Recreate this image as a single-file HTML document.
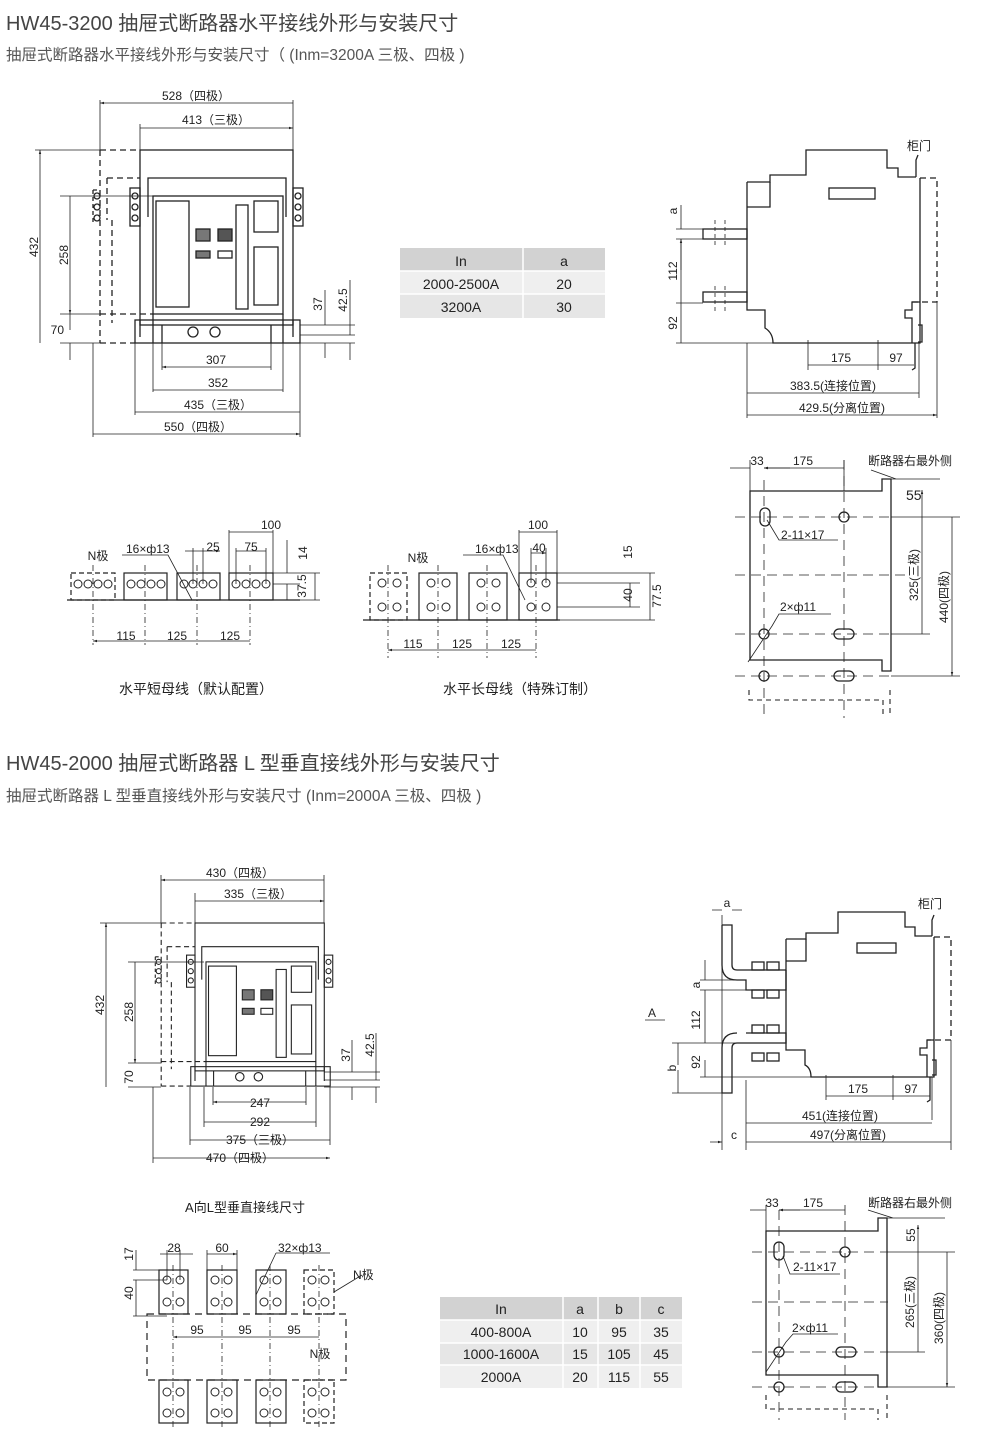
<!DOCTYPE html>
<html><head><meta charset="utf-8"><style>
html,body{margin:0;padding:0;background:#fff}
svg{display:block}
text{font-family:"Liberation Sans","Noto Sans CJK SC",sans-serif;fill:#222}
.t1{font-size:20px;fill:#444}
.t2{font-size:15.5px;fill:#555}
.s{font-size:12px}
.m{font-size:14px}
</style></head><body>
<svg width="1000" height="1442" viewBox="0 0 1000 1442" xmlns="http://www.w3.org/2000/svg">
<defs>
<marker id="ar" viewBox="0 0 10 10" refX="10" refY="5" markerWidth="9" markerHeight="5" orient="auto-start-reverse"><path d="M0,2 L10,5 L0,8z" fill="#222"/></marker>
<g id="fv" fill="none" stroke="#222" stroke-width="1.3">
 <rect x="140" y="150" width="153" height="175"/>
 <path d="M148,217 V178 H286 V217"/>
 <rect x="153" y="196" width="130" height="118"/>
 <rect x="156" y="201" width="33" height="106"/>
 <rect x="196" y="229" width="14" height="12" fill="#777"/>
 <rect x="218" y="229" width="14" height="12" fill="#555"/>
 <rect x="196" y="251" width="14" height="7" fill="#777"/>
 <rect x="218" y="251" width="14" height="7"/>
 <rect x="236" y="205" width="12" height="104"/>
 <rect x="254" y="201" width="24" height="31"/>
 <rect x="254" y="247" width="24" height="58"/>
 <rect x="130" y="188" width="10" height="38"/>
 <rect x="293" y="188" width="10" height="38"/>
 <circle cx="135" cy="196" r="3"/><circle cx="135" cy="207" r="3"/><circle cx="135" cy="218" r="3"/>
 <circle cx="298" cy="196" r="3"/><circle cx="298" cy="207" r="3"/><circle cx="298" cy="218" r="3"/>
 <rect x="135" y="320" width="165" height="23"/>
 <path d="M140,320 V337 M153,314 V343 M162,325 V343 M271,325 V343 M283,314 V343 M293,320 V337"/>
 <circle cx="193" cy="332" r="5"/><circle cx="215" cy="332" r="5"/>
 <path d="M100,150 H140 M107,178 H140 M100,150 V343 M107,178 V220 M112,220 V323 M100,314 H153 M100,343 H135" stroke-dasharray="6,4"/>
 <path d="M93,190 V225 M93,190 H100" stroke-dasharray="4,3"/>
 <circle cx="97" cy="196" r="3"/><circle cx="97" cy="207" r="3"/><circle cx="97" cy="218" r="3"/>
</g>
</defs>

<text x="6" y="30" class="t1">HW45-3200 抽屉式断路器水平接线外形与安装尺寸</text>
<text x="6" y="60" class="t2">抽屉式断路器水平接线外形与安装尺寸（ (Inm=3200A 三极、四极 )</text>
<text x="6" y="770" class="t1">HW45-2000 抽屉式断路器 L 型垂直接线外形与安装尺寸</text>
<text x="6" y="801" class="t2">抽屉式断路器 L 型垂直接线外形与安装尺寸 (Inm=2000A 三极、四极 )</text>

<!-- FRONT VIEW 1 -->
<use href="#fv"/>
<g stroke="#222" stroke-width="0.8" fill="none">
 <path d="M100,100 V150 M293,100 V150 M140,124 V150"/>
 <path d="M100,103 H293 M140,128 H293" marker-start="url(#ar)" marker-end="url(#ar)"/>
 <path d="M35,150 H100 M60,196 H153 M60,343 H100 M60,314 H100"/>
 <path d="M40,150 V343 M70,196 V314" marker-start="url(#ar)" marker-end="url(#ar)"/>
 <path d="M70,314 V330 M70,343 V360"/>
 <path d="M300,325 H355 M300,335 H355 M300,343 H355 M325,290 V325 M325,343 V358 M350,280 V335 M350,343 V360"/>
 <path d="M162,343 V370 M271,343 V370 M153,343 V392 M283,343 V392 M135,343 V415 M300,343 V437 M93,343 V437"/>
 <path d="M162,367 H271 M153,390 H283 M135,412 H300 M93,434 H300" marker-start="url(#ar)" marker-end="url(#ar)"/>
</g>
<text x="196" y="100" text-anchor="middle" class="s">528（四极）</text>
<text x="216" y="124" text-anchor="middle" class="s">413（三极）</text>
<text x="38" y="247" class="s" transform="rotate(-90 38 247)" text-anchor="middle">432</text>
<text x="68" y="255" class="s" transform="rotate(-90 68 255)" text-anchor="middle">258</text>
<text x="64" y="334" class="s" text-anchor="end">70</text>
<text x="322" y="304" class="s" transform="rotate(-90 322 304)" text-anchor="middle">37</text>
<text x="347" y="300" class="s" transform="rotate(-90 347 300)" text-anchor="middle">42.5</text>
<text x="216" y="364" text-anchor="middle" class="s">307</text>
<text x="218" y="387" text-anchor="middle" class="s">352</text>
<text x="218" y="409" text-anchor="middle" class="s">435（三极）</text>
<text x="198" y="431" text-anchor="middle" class="s">550（四极）</text>

<!-- TABLE 1 -->
<rect x="400" y="248" width="205" height="23" fill="#d2d2d2"/>
<rect x="400" y="271" width="205" height="23" fill="#efefef"/>
<rect x="400" y="294" width="205" height="24" fill="#e6e6e6"/>
<path d="M523,248 V318 M400,271 H605 M400,294 H605" stroke="#fff" stroke-width="1.5"/>
<text x="461" y="266" text-anchor="middle" class="m">In</text>
<text x="564" y="266" text-anchor="middle" class="m">a</text>
<text x="461" y="289" text-anchor="middle" class="m">2000-2500A</text>
<text x="564" y="289" text-anchor="middle" class="m">20</text>
<text x="461" y="312" text-anchor="middle" class="m">3200A</text>
<text x="564" y="312" text-anchor="middle" class="m">30</text>

<!-- SIDE VIEW 1 -->
<g fill="none" stroke="#222" stroke-width="1.3">
 <path d="M747,182 H770 V175 H806 V150 H887 V168 H898 V177 H916 M920,178 V343 H773 Q773,333 765,328 V310 H747 V182"/>
 <path d="M770,182 V207 H747"/>
 <rect x="829" y="188" width="46" height="11"/>
 <rect x="703" y="229" width="44" height="10"/>
 <rect x="703" y="292" width="44" height="10"/>
 <path d="M916,177 V160 L918,155 M920,302 H912 V310 H905 V318 H912 V343 M918,325 H922 V342 H918 M915,343 V368 L912,370"/>
 <path d="M920,178 H937 V302 H912" stroke-dasharray="6,4"/>
 <path d="M715,220 V245 M725,220 V245 M715,286 V312 M725,286 V312" stroke-dasharray="4,3" stroke-width="0.8"/>
</g>
<g stroke="#222" stroke-width="0.8" fill="none">
 <path d="M676,229 H703 M676,239 H703 M676,303 H703 M676,343 H773 M747,343 V418 M919,343 V398 M937,302 V418 M808,340 V370 M878,340 V370"/>
 <path d="M681,205 V229 M681,262 V239 M681,239 V303 M681,303 V343 M808,365 H878 M878,365 H914 M747,393 H919 M747,415 H937" marker-end="url(#ar)"/>
 <path d="M681,270 V239" marker-end="url(#ar)"/>
</g>
<text x="677" y="211" class="s" transform="rotate(-90 677 211)" text-anchor="middle">a</text>
<text x="677" y="271" class="s" transform="rotate(-90 677 271)" text-anchor="middle">112</text>
<text x="677" y="323" class="s" transform="rotate(-90 677 323)" text-anchor="middle">92</text>
<text x="841" y="362" text-anchor="middle" class="s">175</text>
<text x="896" y="362" text-anchor="middle" class="s">97</text>
<text x="833" y="390" text-anchor="middle" class="s">383.5(连接位置)</text>
<text x="842" y="412" text-anchor="middle" class="s">429.5(分离位置)</text>
<text x="907" y="150" class="s">柜门</text>

<!-- MOUNT VIEW 1 -->
<g fill="none" stroke="#222" stroke-width="1.3">
 <path d="M750,491 H882 V479 H891 V671 H882 V660 H750 Z"/>
 <rect x="760" y="508" width="10" height="18" rx="5"/>
 <circle cx="844" cy="517" r="5"/>
 <circle cx="764" cy="634" r="5"/>
 <rect x="834" y="629" width="20" height="10" rx="5"/>
 <circle cx="764" cy="676" r="5"/>
 <rect x="834" y="671" width="20" height="10" rx="5"/>
</g>
<g fill="none" stroke="#222" stroke-width="0.8">
 <path d="M735,517 H890 M735,575 H905 M735,634 H890 M735,676 H890 M764,480 V718 M844,460 V718" stroke-dasharray="10,6"/>
 <path d="M749,690 V700 H883 V716 M890,690 V716" stroke-dasharray="5,4" stroke-width="1.1"/>
 <path d="M750,460 V491 M844,460 V491 M891,479 H930 M891,517 H960 M891,634 H930 M891,676 H960 M871,470 L896,479 H940"/>
 <path d="M730,468 H750 M844,468 H764" marker-end="url(#ar)"/>
 <path d="M764,468 H790" marker-start="url(#ar)"/>
 <path d="M922,490 V517 M922,517 V634 M952,517 V676" marker-start="url(#ar)" marker-end="url(#ar)"/>
 <path d="M767,520 L779,540 H838 M748,662 L772,626 M772,626 L779,614 H831"/>
</g>
<text x="757" y="465" text-anchor="middle" class="s">33</text>
<text x="803" y="465" text-anchor="middle" class="s">175</text>
<text x="868" y="465" class="s">断路器右最外侧</text>
<text x="906" y="500" class="m">55</text>
<text x="781" y="539" class="s">2-11×17</text>
<text x="780" y="611" class="s">2×ф11</text>
<text x="918" y="575" class="s" transform="rotate(-90 918 575)" text-anchor="middle">325(三极)</text>
<text x="948" y="597" class="s" transform="rotate(-90 948 597)" text-anchor="middle">440(四极)</text>

<!-- BUSBAR SHORT -->
<g fill="none" stroke="#222" stroke-width="1.2">
 <path d="M67,600 H300"/>
 <rect x="71" y="573" width="44" height="27" stroke-dasharray="5,3"/>
 <rect x="124" y="573" width="43" height="27"/>
 <rect x="177" y="573" width="43" height="27"/>
 <rect x="229" y="573" width="44" height="27"/>
 <g stroke-width="1">
 <circle cx="78" cy="584" r="4"/><circle cx="88" cy="584" r="4"/><circle cx="98" cy="584" r="4"/><circle cx="108" cy="584" r="4"/>
 <circle cx="131" cy="584" r="4"/><circle cx="141" cy="584" r="4"/><circle cx="151" cy="584" r="4"/><circle cx="161" cy="584" r="4"/>
 <circle cx="184" cy="584" r="4"/><circle cx="193" cy="584" r="4"/><circle cx="203" cy="584" r="4"/><circle cx="213" cy="584" r="4"/>
 <circle cx="236" cy="584" r="4"/><circle cx="246" cy="584" r="4"/><circle cx="256" cy="584" r="4"/><circle cx="266" cy="584" r="4"/>
 </g>
</g>
<g fill="none" stroke="#222" stroke-width="0.8">
 <path d="M93,565 V645 M145,565 V645 M197,565 V645 M250,565 V645" stroke-dasharray="6,3,1,3"/>
 <path d="M93,641 H145 M145,641 H197 M197,641 H250 M229,532 H273 M236,551 H266 M185,551 H220" marker-start="url(#ar)" marker-end="url(#ar)"/>
 <path d="M229,530 V573 M273,530 V573 M236,548 V584 M266,548 V584 M193,548 V584 M203,548 V584 M273,573 H320 M273,584 H300 M273,600 H320 M287,540 V573 M287,584 V600 M315,573 V600"/>
 <path d="M122,555 H168 L192,600"/>
</g>
<text x="98" y="560" text-anchor="middle" class="s">N极</text>
<text x="126" y="553" class="s">16×ф13</text>
<text x="213" y="551" text-anchor="middle" class="s">25</text>
<text x="251" y="551" text-anchor="middle" class="s">75</text>
<text x="271" y="529" text-anchor="middle" class="s">100</text>
<text x="307" y="553" class="s" transform="rotate(-90 307 553)" text-anchor="middle">14</text>
<text x="306" y="586" class="s" transform="rotate(-90 306 586)" text-anchor="middle">37.5</text>
<text x="126" y="640" text-anchor="middle" class="s">115</text>
<text x="177" y="640" text-anchor="middle" class="s">125</text>
<text x="230" y="640" text-anchor="middle" class="s">125</text>
<text x="196" y="694" text-anchor="middle" class="m">水平短母线（默认配置）</text>

<!-- BUSBAR LONG -->
<g fill="none" stroke="#222" stroke-width="1.2">
 <path d="M363,620 H560"/>
 <rect x="370" y="573" width="37" height="47" stroke-dasharray="5,3"/>
 <rect x="419" y="573" width="38" height="47"/>
 <rect x="469" y="573" width="38" height="47"/>
 <rect x="519" y="573" width="38" height="47"/>
 <g stroke-width="1">
 <circle cx="382" cy="583" r="4"/><circle cx="397" cy="583" r="4"/><circle cx="382" cy="607" r="4"/><circle cx="397" cy="607" r="4"/>
 <circle cx="431" cy="583" r="4"/><circle cx="446" cy="583" r="4"/><circle cx="431" cy="607" r="4"/><circle cx="446" cy="607" r="4"/>
 <circle cx="481" cy="583" r="4"/><circle cx="496" cy="583" r="4"/><circle cx="481" cy="607" r="4"/><circle cx="496" cy="607" r="4"/>
 <circle cx="531" cy="583" r="4"/><circle cx="546" cy="583" r="4"/><circle cx="531" cy="607" r="4"/><circle cx="546" cy="607" r="4"/>
 </g>
</g>
<g fill="none" stroke="#222" stroke-width="0.8">
 <path d="M388,565 V658 M438,565 V658 M487,565 V658 M536,565 V658" stroke-dasharray="6,3,1,3"/>
 <path d="M388,650 H438 M438,650 H487 M487,650 H536 M519,532 H557 M531,553 H546" marker-start="url(#ar)" marker-end="url(#ar)"/>
 <path d="M519,530 V573 M557,530 V573 M531,548 V583 M546,548 V583 M557,573 H655 M557,583 H640 M557,607 H640 M557,620 H655 M630,583 V607 M650,573 V620"/>
 <path d="M463,555 H503 L525,600"/>
</g>
<text x="418" y="562" text-anchor="middle" class="s">N极</text>
<text x="475" y="553" class="s">16×ф13</text>
<text x="539" y="552" text-anchor="middle" class="s">40</text>
<text x="538" y="529" text-anchor="middle" class="s">100</text>
<text x="632" y="552" class="s" transform="rotate(-90 632 552)" text-anchor="middle">15</text>
<text x="632" y="595" class="s" transform="rotate(-90 632 595)" text-anchor="middle">40</text>
<text x="661" y="596" class="s" transform="rotate(-90 661 596)" text-anchor="middle">77.5</text>
<text x="413" y="648" text-anchor="middle" class="s">115</text>
<text x="462" y="648" text-anchor="middle" class="s">125</text>
<text x="511" y="648" text-anchor="middle" class="s">125</text>
<text x="520" y="694" text-anchor="middle" class="m">水平长母线（特殊订制）</text>

<!-- FRONT VIEW 2 -->
<use href="#fv" transform="translate(195,923) scale(0.845) translate(-140,-150)"/>
<g stroke="#222" stroke-width="0.8" fill="none">
 <path d="M161,875 V923 M324,875 V923 M195,893 V923"/>
 <path d="M161,880 H324 M195,901 H324" marker-start="url(#ar)" marker-end="url(#ar)"/>
 <path d="M100,923 H161 M128,962 H204 M128,1087 H161 M128,1063 H161"/>
 <path d="M106,923 V1087 M135,962 V1063" marker-start="url(#ar)" marker-end="url(#ar)"/>
 <path d="M324,1072 H380 M324,1080 H380 M324,1087 H380 M352,1040 V1072 M352,1087 V1100 M376,1033 V1080 M376,1087 V1103"/>
 <path d="M213,1087 V1105 M306,1087 V1105 M204,1087 V1127 M316,1087 V1127 M190,1087 V1145 M330,1087 V1145 M153,1087 V1163"/>
 <path d="M213,1102 H306 M204,1122 H316 M190,1140 H330 M153,1158 H330" marker-start="url(#ar)" marker-end="url(#ar)"/>
</g>
<text x="240" y="877" text-anchor="middle" class="s">430（四极）</text>
<text x="258" y="898" text-anchor="middle" class="s">335（三极）</text>
<text x="104" y="1005" class="s" transform="rotate(-90 104 1005)" text-anchor="middle">432</text>
<text x="133" y="1012" class="s" transform="rotate(-90 133 1012)" text-anchor="middle">258</text>
<text x="133" y="1077" class="s" transform="rotate(-90 133 1077)" text-anchor="middle">70</text>
<text x="350" y="1055" class="s" transform="rotate(-90 350 1055)" text-anchor="middle">37</text>
<text x="374" y="1045" class="s" transform="rotate(-90 374 1045)" text-anchor="middle">42.5</text>
<text x="260" y="1107" text-anchor="middle" class="s">247</text>
<text x="260" y="1126" text-anchor="middle" class="s">292</text>
<text x="260" y="1144" text-anchor="middle" class="s">375（三极）</text>
<text x="240" y="1162" text-anchor="middle" class="s">470（四极）</text>
<text x="245" y="1212" text-anchor="middle" class="m" style="font-size:13px">A向L型垂直接线尺寸</text>

<!-- A view busbars -->
<g fill="none" stroke="#222" stroke-width="1.2">
 <rect x="159" y="1270" width="29" height="44"/><rect x="207" y="1270" width="30" height="44"/><rect x="256" y="1270" width="30" height="44"/>
 <rect x="304" y="1270" width="30" height="44" stroke-dasharray="5,3"/>
 <rect x="147" y="1314" width="199" height="66" stroke-dasharray="7,5"/>
 <rect x="159" y="1380" width="29" height="43"/><rect x="207" y="1380" width="30" height="43"/><rect x="256" y="1380" width="30" height="43"/>
 <rect x="304" y="1380" width="30" height="43" stroke-dasharray="5,3"/>
 <g stroke-width="1">
 <circle cx="167" cy="1280" r="4"/><circle cx="180" cy="1280" r="4"/><circle cx="167" cy="1302" r="4"/><circle cx="180" cy="1302" r="4"/>
 <circle cx="215" cy="1280" r="4"/><circle cx="228" cy="1280" r="4"/><circle cx="215" cy="1302" r="4"/><circle cx="228" cy="1302" r="4"/>
 <circle cx="264" cy="1280" r="4"/><circle cx="277" cy="1280" r="4"/><circle cx="264" cy="1302" r="4"/><circle cx="277" cy="1302" r="4"/>
 <circle cx="312" cy="1280" r="4"/><circle cx="325" cy="1280" r="4"/><circle cx="312" cy="1302" r="4"/><circle cx="325" cy="1302" r="4"/>
 <circle cx="167" cy="1392" r="4"/><circle cx="180" cy="1392" r="4"/><circle cx="167" cy="1413" r="4"/><circle cx="180" cy="1413" r="4"/>
 <circle cx="215" cy="1392" r="4"/><circle cx="228" cy="1392" r="4"/><circle cx="215" cy="1413" r="4"/><circle cx="228" cy="1413" r="4"/>
 <circle cx="264" cy="1392" r="4"/><circle cx="277" cy="1392" r="4"/><circle cx="264" cy="1413" r="4"/><circle cx="277" cy="1413" r="4"/>
 <circle cx="312" cy="1392" r="4"/><circle cx="325" cy="1392" r="4"/><circle cx="312" cy="1413" r="4"/><circle cx="325" cy="1413" r="4"/>
 </g>
</g>
<g fill="none" stroke="#222" stroke-width="0.8">
 <path d="M173,1265 V1430 M222,1265 V1430 M270,1265 V1430 M319,1265 V1430" stroke-dasharray="6,3,1,3"/>
 <path d="M173,1337 H222 M222,1337 H270 M270,1337 H319 M160,1254 H193 M207,1254 H237" marker-start="url(#ar)" marker-end="url(#ar)"/>
 <path d="M167,1250 V1280 M180,1250 V1280 M207,1250 V1270 M237,1250 V1270 M133,1270 H159 M133,1280 H167 M133,1316 H167 M136,1250 V1270 M136,1280 V1316"/>
 <path d="M276,1253 H330 M276,1253 L256,1295 M334,1292 L362,1275"/>
</g>
<text x="174" y="1252" text-anchor="middle" class="s">28</text>
<text x="222" y="1252" text-anchor="middle" class="s">60</text>
<text x="278" y="1252" class="s">32×ф13</text>
<text x="133" y="1254" class="s" transform="rotate(-90 133 1254)" text-anchor="middle">17</text>
<text x="133" y="1293" class="s" transform="rotate(-90 133 1293)" text-anchor="middle">40</text>
<text x="353" y="1279" class="s">N极</text>
<text x="197" y="1334" text-anchor="middle" class="s">95</text>
<text x="245" y="1334" text-anchor="middle" class="s">95</text>
<text x="294" y="1334" text-anchor="middle" class="s">95</text>
<text x="320" y="1358" text-anchor="middle" class="s">N极</text>

<!-- TABLE 2 -->
<rect x="440" y="1297" width="242" height="23" fill="#d2d2d2"/>
<rect x="440" y="1320" width="242" height="23" fill="#efefef"/>
<rect x="440" y="1343" width="242" height="22" fill="#e6e6e6"/>
<rect x="440" y="1365" width="242" height="23" fill="#efefef"/>
<path d="M563,1297 V1388 M598,1297 V1388 M640,1297 V1388 M440,1320 H682 M440,1343 H682 M440,1365 H682" stroke="#fff" stroke-width="1.5"/>
<text x="501" y="1314" text-anchor="middle" class="m">In</text><text x="580" y="1314" text-anchor="middle" class="m">a</text><text x="619" y="1314" text-anchor="middle" class="m">b</text><text x="661" y="1314" text-anchor="middle" class="m">c</text>
<text x="501" y="1337" text-anchor="middle" class="m">400-800A</text><text x="580" y="1337" text-anchor="middle" class="m">10</text><text x="619" y="1337" text-anchor="middle" class="m">95</text><text x="661" y="1337" text-anchor="middle" class="m">35</text>
<text x="501" y="1359" text-anchor="middle" class="m">1000-1600A</text><text x="580" y="1359" text-anchor="middle" class="m">15</text><text x="619" y="1359" text-anchor="middle" class="m">105</text><text x="661" y="1359" text-anchor="middle" class="m">45</text>
<text x="501" y="1382" text-anchor="middle" class="m">2000A</text><text x="580" y="1382" text-anchor="middle" class="m">20</text><text x="619" y="1382" text-anchor="middle" class="m">115</text><text x="661" y="1382" text-anchor="middle" class="m">55</text>

<!-- SIDE VIEW 2 -->
<g fill="none" stroke="#222" stroke-width="1.3">
 <path d="M786,939 H806 V933 H838 V912 H905 V927 H915 V936 H932 M934,937 V1077 H811 Q811,1068 805,1065 V1050 H786 V939"/>
 <path d="M806,939 V961 H786"/>
 <rect x="857" y="943" width="39" height="10"/>
 <path d="M722,925 H732 V965 Q732,970 737,970 H786 M722,925 V965 Q722,980 737,980 H746 V990 H786 V970"/>
 <path d="M746,1033 H786 V1043 H737 Q732,1043 732,1048 V1093 H722 V1048 Q722,1033 737,1033"/>
 <path d="M932,936 V920 L934,915 M934,1040 H927 V1048 H920 V1055 H927 V1077 M932,1060 H936 V1075 H932 M930,1077 V1100 L927,1102"/>
 <path d="M934,937 H951 V1040 H927" stroke-dasharray="6,4"/>
 <rect x="752" y="962" width="12" height="8"/><rect x="767" y="962" width="12" height="8"/>
 <rect x="752" y="990" width="12" height="8"/><rect x="767" y="990" width="12" height="8"/>
 <rect x="752" y="1025" width="12" height="8"/><rect x="767" y="1025" width="12" height="8"/>
 <rect x="752" y="1053" width="12" height="8"/><rect x="767" y="1053" width="12" height="8"/>
</g>
<g stroke="#222" stroke-width="0.8" fill="none">
 <path d="M700,980 H746 M700,990 H746 M700,1043 H786 M700,1077 H811 M672,1043 H722 M672,1093 H722"/>
 <path d="M722,915 V1150 M746,1080 V1150 M932,1077 V1120 M951,1040 V1150 M826,1075 V1100 M893,1075 V1100"/>
 <path d="M705,960 V980 M705,1010 V990 M705,1010 V1043 M705,1060 V1077 M678,1065 V1043 M678,1070 V1093 M826,1096 H893 M893,1096 H930 M746,1123 H932 M746,1142 H951 M712,910 H722 M742,910 H732 M645,1020 H665 M710,1142 H722" marker-end="url(#ar)"/>
</g>
<text x="727" y="907" text-anchor="middle" class="s">a</text>
<text x="700" y="985" class="s" transform="rotate(-90 700 985)" text-anchor="middle">a</text>
<text x="700" y="1020" class="s" transform="rotate(-90 700 1020)" text-anchor="middle">112</text>
<text x="700" y="1062" class="s" transform="rotate(-90 700 1062)" text-anchor="middle">92</text>
<text x="676" y="1068" class="s" transform="rotate(-90 676 1068)" text-anchor="middle">b</text>
<text x="648" y="1017" class="s">A</text>
<text x="858" y="1093" text-anchor="middle" class="s">175</text>
<text x="911" y="1093" text-anchor="middle" class="s">97</text>
<text x="840" y="1120" text-anchor="middle" class="s">451(连接位置)</text>
<text x="848" y="1139" text-anchor="middle" class="s">497(分离位置)</text>
<text x="734" y="1139" text-anchor="middle" class="s">c</text>
<text x="918" y="908" class="s">柜门</text>

<!-- MOUNT VIEW 2 -->
<g fill="none" stroke="#222" stroke-width="1.3">
 <path d="M766,1231 H878 V1218 H887 V1387 H878 V1375 H766 Z"/>
 <rect x="774" y="1242" width="10" height="18" rx="5"/>
 <circle cx="845" cy="1252" r="5"/>
 <circle cx="779" cy="1352" r="5"/>
 <rect x="836" y="1347" width="20" height="10" rx="5"/>
 <circle cx="779" cy="1387" r="5"/>
 <rect x="836" y="1382" width="20" height="10" rx="5"/>
</g>
<g fill="none" stroke="#222" stroke-width="0.8">
 <path d="M752,1252 H888 M752,1302 H888 M752,1352 H888 M752,1387 H888 M779,1210 V1420 M845,1205 V1420" stroke-dasharray="10,6"/>
 <path d="M766,1395 V1409 H878 V1420 M887,1395 V1420" stroke-dasharray="5,4" stroke-width="1.1"/>
 <path d="M766,1205 V1231 M887,1218 H925 M887,1252 H955 M887,1352 H925 M887,1387 H955 M868,1210 L893,1218 H945"/>
 <path d="M750,1210 H766 M845,1210 H779" marker-end="url(#ar)"/>
 <path d="M779,1210 H800" marker-start="url(#ar)"/>
 <path d="M918,1225 V1252 M918,1252 V1352 M947,1252 V1387" marker-start="url(#ar)" marker-end="url(#ar)"/>
 <path d="M783,1256 L790,1274 H840 M766,1372 L786,1342 L793,1334 H838"/>
</g>
<text x="772" y="1207" text-anchor="middle" class="s">33</text>
<text x="813" y="1207" text-anchor="middle" class="s">175</text>
<text x="868" y="1207" class="s">断路器右最外侧</text>
<text x="915" y="1235" class="s" transform="rotate(-90 915 1235)" text-anchor="middle">55</text>
<text x="793" y="1271" class="s">2-11×17</text>
<text x="792" y="1332" class="s">2×ф11</text>
<text x="914" y="1302" class="s" transform="rotate(-90 914 1302)" text-anchor="middle">265(三极)</text>
<text x="943" y="1318" class="s" transform="rotate(-90 943 1318)" text-anchor="middle">360(四极)</text>
</svg>
</body></html>
